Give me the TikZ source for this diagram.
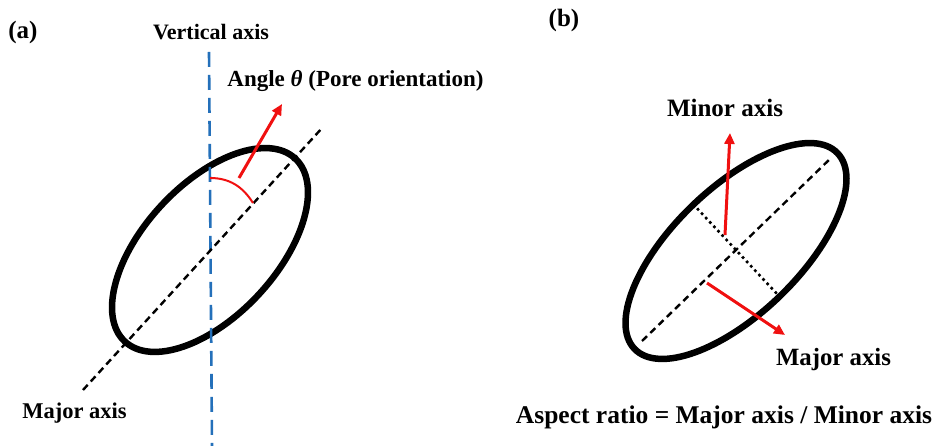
\documentclass[tikz,border=0pt]{standalone}
\usepackage{fontspec}
\setmainfont{Liberation Serif}
\usetikzlibrary{arrows.meta}
\definecolor{axblue}{RGB}{36,112,186}
\definecolor{arred}{RGB}{240,16,16}
\tikzset{
  lbl/.style={inner sep=0pt, font=\bfseries},
  pore/.style={draw=black, line width=6.5pt},
  majdash/.style={draw=black, line width=2.4pt, dash pattern=on 7pt off 4.5pt},
  mindot/.style={draw=black, line width=2.6pt, dash pattern=on 2.6pt off 3.4pt},
  vdash/.style={draw=axblue, line width=2.6pt, dash pattern=on 15pt off 8pt},
  redarrow/.style={draw=arred, line width=3pt, -{Triangle[length=11pt,width=10pt]}, arred},
  redarc/.style={draw=arred, line width=2pt}
}
\begin{document}
\begin{tikzpicture}[x=1pt,y=1pt]
\useasboundingbox (0,0) rectangle (937,446);
% ---------- panel (a) ----------
\coordinate (ca) at (210,196);
\draw[pore, shift={(ca)}, rotate=47] (0,0) ellipse [x radius=125, y radius=66];
\coordinate (va1) at (209,394);
\coordinate (va2) at (212,0);
\draw[vdash] (va1) -- (va2);
\coordinate (ma1) at (83,56);
\coordinate (ma2) at (323,319);
\draw[majdash] (ma1) -- (ma2);
\coordinate (arc1) at (210,268);
\coordinate (arc2) at (253,243);
\draw[redarc] (arc1) to[out=0,in=122] (arc2);
\coordinate (ra1) at (239,268);
\coordinate (ra2) at (282,342);
\draw[redarrow] (ra1) -- (ra2);
\node[lbl, font=\bfseries\fontsize{25}{28}\selectfont] (la) at (23,414) {(a)};
\node[lbl, font=\bfseries\fontsize{22}{26}\selectfont] (vt) at (211,414) {Vertical axis};
\node[lbl, font=\bfseries\fontsize{23}{27}\selectfont] (at) at (355.5,365) {Angle {\itshape θ} (Pore orientation)};
\node[lbl, font=\bfseries\fontsize{22.5}{26}\selectfont] (mta) at (74.5,33) {Major axis};
% ---------- panel (b) ----------
\coordinate (cb) at (736,195);
\draw[pore, shift={(cb)}, rotate=44] (0,0) ellipse [x radius=141, y radius=63];
\coordinate (mb1) at (642,105);
\coordinate (mb2) at (832,289);
\draw[majdash] (mb1) -- (mb2);
\coordinate (nb1) at (693,242);
\coordinate (nb2) at (778,151);
\draw[mindot] (nb1) -- (nb2);
\coordinate (rb1) at (725,211);
\coordinate (rb2) at (730,313);
\draw[redarrow] (rb1) -- (rb2);
\coordinate (rc1) at (707,163);
\coordinate (rc2) at (785,111);
\draw[redarrow] (rc1) -- (rc2);
\node[lbl, font=\bfseries\fontsize{25}{28}\selectfont] (lb) at (564,426) {(b)};
\node[lbl, font=\bfseries\fontsize{25}{28}\selectfont] (mnt) at (725,338) {Minor axis};
\node[lbl, font=\bfseries\fontsize{24.8}{28}\selectfont] (mjt) at (833.5,86) {Major axis};
\node[lbl, font=\bfseries\fontsize{25.5}{29}\selectfont] (ar) at (724,29) {Aspect ratio = Major axis / Minor axis};
\end{tikzpicture}
\end{document}
